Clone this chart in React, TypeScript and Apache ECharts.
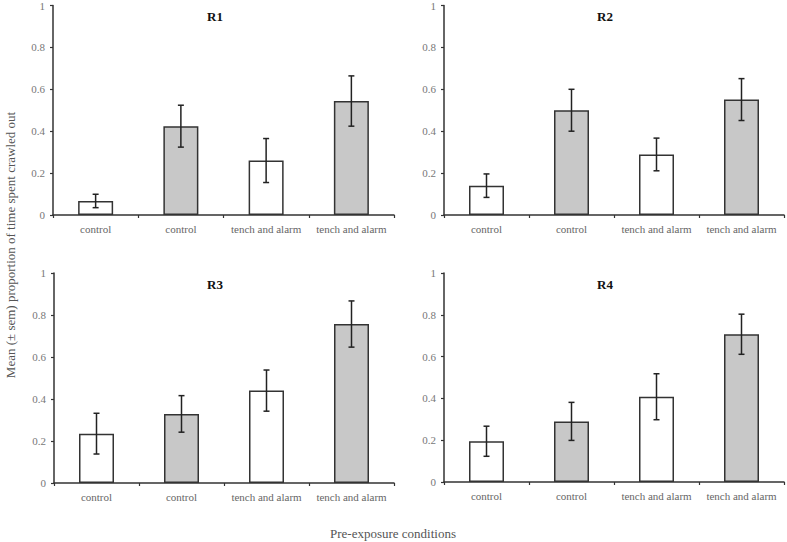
import React, { useEffect, useRef } from "react";
import * as echarts from "echarts";

const categories = ["control", "control", "tench and alarm", "tench and alarm"];
const panelTitles = ["R1", "R2", "R3", "R4"];
const r1Means = [0.067, 0.424, 0.26, 0.544];
const r1Errors = [0.032, 0.1, 0.105, 0.12];
const r2Means = [0.14, 0.5, 0.289, 0.551];
const r2Errors = [0.056, 0.1, 0.078, 0.1];
const r3Means = [0.235, 0.329, 0.44, 0.757];
const r3Errors = [0.097, 0.087, 0.098, 0.11];
const r4Means = [0.195, 0.29, 0.408, 0.707];
const r4Errors = [0.072, 0.091, 0.11, 0.096];
const barFills = ["#ffffff", "#c8c8c8", "#ffffff", "#c8c8c8"];

const means = [r1Means, r2Means, r3Means, r4Means];
const errors = [r1Errors, r2Errors, r3Errors, r4Errors];

const grids = [
  { left: 53, top: 5, width: 341, height: 210 },
  { left: 444, top: 5, width: 340, height: 210 },
  { left: 54, top: 273, width: 340, height: 210 },
  { left: 444, top: 273, width: 340, height: 209 },
];
const titlePos = [
  { x: 215, y: 16 },
  { x: 605, y: 16 },
  { x: 215, y: 284 },
  { x: 605, y: 284 },
];

const FONT = "Liberation Serif, serif";
const AXIS_COLOR = "#333333";

export default function App() {
  const ref = useRef<HTMLDivElement>(null);
  useEffect(() => {
    if (!ref.current) return;
    const chart = echarts.init(ref.current, undefined, { renderer: "svg" });

    const xAxes: any[] = [];
    const yAxes: any[] = [];
    const series: any[] = [];
    grids.forEach((g, i) => {
      xAxes.push({
        type: "category",
        gridIndex: i,
        data: categories,
        axisLine: { lineStyle: { color: AXIS_COLOR, width: 1.5 } },
        axisTick: { show: true, length: 3, lineStyle: { color: AXIS_COLOR, width: 1.2 } },
        axisLabel: { color: "#666666", fontFamily: FONT, fontSize: 11, margin: 8, interval: 0 },
        splitLine: { show: false },
      });
      yAxes.push({
        type: "value",
        gridIndex: i,
        min: 0,
        max: 1,
        interval: 0.2,
        axisLine: { show: true, lineStyle: { color: AXIS_COLOR, width: 1.5 } },
        axisTick: { show: true, length: 3, lineStyle: { color: AXIS_COLOR, width: 1.2 } },
        axisLabel: {
          color: "#777777",
          fontFamily: FONT,
          fontSize: 11,
          margin: 8,
          formatter: (v: number) => (v === 0 ? "0" : v === 1 ? "1" : v.toFixed(1)),
        },
        splitLine: { show: false },
      });
      series.push({
        type: "bar",
        xAxisIndex: i,
        yAxisIndex: i,
        barWidth: 35,
        data: means[i].map((m, k) => ({
          value: m,
          itemStyle: { color: barFills[k], borderColor: "#333333", borderWidth: 1.5 },
        })),
        silent: true,
      });
      series.push({
        type: "custom",
        xAxisIndex: i,
        yAxisIndex: i,
        data: means[i].map((m, k) => [k, m - errors[i][k], m + errors[i][k]]),
        z: 10,
        silent: true,
        renderItem: (params: any, api: any) => {
          const xi = api.value(0);
          const lo = api.coord([xi, api.value(1)]);
          const hi = api.coord([xi, api.value(2)]);
          const cap = 3;
          const style = { stroke: "#222222", lineWidth: 1.5 };
          return {
            type: "group",
            children: [
              { type: "line", shape: { x1: lo[0], y1: lo[1], x2: hi[0], y2: hi[1] }, style },
              { type: "line", shape: { x1: hi[0] - cap, y1: hi[1], x2: hi[0] + cap, y2: hi[1] }, style },
              { type: "line", shape: { x1: lo[0] - cap, y1: lo[1], x2: lo[0] + cap, y2: lo[1] }, style },
            ],
          };
        },
      });
    });

    const graphics: any[] = panelTitles.map((t, i) => ({
      type: "text",
      x: titlePos[i].x,
      y: titlePos[i].y,
      style: {
        text: t,
        fill: "#111111",
        fontFamily: FONT,
        fontSize: 13,
        fontWeight: "bold",
        textAlign: "center",
        textVerticalAlign: "middle",
      },
    }));
    graphics.push({
      type: "text",
      x: 10,
      y: 245,
      rotation: Math.PI / 2,
      style: {
        text: "Mean (± sem) proportion of time spent crawled out",
        fill: "#555555",
        fontFamily: FONT,
        fontSize: 13,
        textAlign: "center",
        textVerticalAlign: "middle",
      },
    });
    graphics.push({
      type: "text",
      x: 393,
      y: 533,
      style: {
        text: "Pre-exposure conditions",
        fill: "#555555",
        fontFamily: FONT,
        fontSize: 13,
        textAlign: "center",
        textVerticalAlign: "middle",
      },
    });

    chart.setOption({
      animation: false,
      backgroundColor: "#ffffff",
      grid: grids,
      xAxis: xAxes,
      yAxis: yAxes,
      series,
      graphic: graphics,
    });
    return () => chart.dispose();
  }, []);
  return <div ref={ref} style={{ width: 787, height: 542, position: "absolute", left: 0, top: 0 }} />;
}
